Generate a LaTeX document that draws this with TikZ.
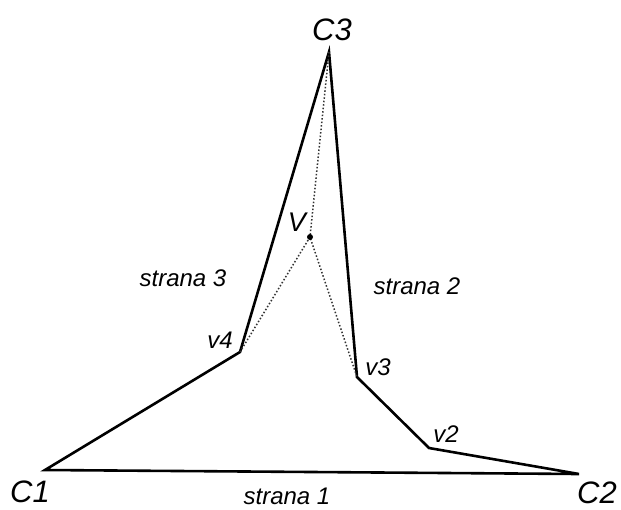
\documentclass[tikz,border=0pt]{standalone}
\usepackage{fontspec}
\setmainfont{Liberation Sans}
\usetikzlibrary{positioning}
\tikzset{
    edge/.style={line width=2.6pt, line join=miter},
    hint/.style={dotted, line width=1.5pt, gray!40!black},
    corner/.style={font=\fontsize{31}{31}\selectfont\itshape, inner sep=0pt},
    vlabel/.style={font=\fontsize{24}{24}\selectfont\itshape, inner sep=0pt},
    side/.style={font=\fontsize{24}{24}\selectfont\itshape, inner sep=0pt},
    pt/.style={coordinate}
}
\begin{document}
\begin{tikzpicture}[x=1pt, y=-1pt]
        \useasboundingbox (0,0) rectangle (621,509);
        % vertices of the polygon
        \node[pt] (c1) at (45,470) {};
        \node[pt] (v4) at (240,352) {};
        \node[pt] (c3) at (329,52) {};
        \node[pt] (v3) at (357,377) {};
        \node[pt] (v2) at (429,448) {};
        \node[pt] (c2) at (579,474) {};
        \node[pt] (v) at (310,237) {};

        \draw[edge] (c1) -- (v4) -- (c3) -- (v3) -- (v2) -- (c2) -- cycle;
        \draw[hint] (c3) -- (v);
        \draw[hint] (v4) -- (v) -- (v3);
        \fill (v) circle (3pt);

        % labels
        \node[corner] (lc3) at (332,30) {C3};
        \node[corner] (lc1) at (30,492) {C1};
        \node[corner] (lc2) at (597,493) {C2};
        \node[vlabel, font=\fontsize{27}{27}\selectfont\itshape] (lv) at (297,222) {V};
        \node[vlabel] (lv4) at (220,340) {v4};
        \node[vlabel] (lv3) at (378,367) {v3};
        \node[vlabel] (lv2) at (446,434) {v2};
        \node[side] (s3) at (183,278) {strana 3};
        \node[side] (s2) at (417,286) {strana 2};
        \node[side] (s1) at (287,496) {strana 1};
    \end{tikzpicture}
\end{document}
